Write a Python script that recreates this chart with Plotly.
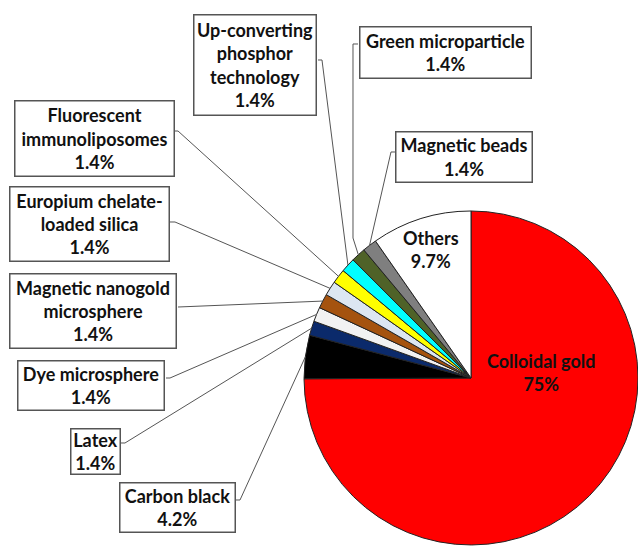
import math
import plotly.graph_objects as go

# ---- data ----
labels = ["Colloidal gold", "Carbon black", "Latex", "Dye microsphere",
          "Magnetic nanogold microsphere", "Europium chelate-loaded silica",
          "Fluorescent immunoliposomes", "Up-converting phosphor technology",
          "Green microparticle", "Magnetic beads", "Others"]
values = [75, 4.2, 1.4, 1.4, 1.4, 1.4, 1.4, 1.4, 1.4, 1.4, 9.7]
pct_text = ["75%", "4.2%", "1.4%", "1.4%", "1.4%", "1.4%", "1.4%", "1.4%", "1.4%", "1.4%", "9.7%"]
label_lines = ["Colloidal gold", "Carbon black", "Latex", "Dye microsphere",
               "Magnetic nanogold<br>microsphere", "Europium chelate-<br>loaded silica",
               "Fluorescent<br>immunoliposomes", "Up-converting<br>phosphor<br>technology",
               "Green microparticle", "Magnetic beads", "Others"]
colors = ["#ff0000", "#000000", "#0b2a6b", "#f2f2f2", "#a5530f", "#dce6f2",
          "#ffff00", "#00ffff", "#4f6228", "#7f7f7f", "#ffffff"]

# ---- layout params ----
W, H = 638, 551
dom_x = [0.4765, 1.0]
dom_y = [0.0109, 0.6171]
cx = (dom_x[0] + dom_x[1]) / 2 * W
cy = H - (dom_y[0] + dom_y[1]) / 2 * H
r = min((dom_x[1] - dom_x[0]) * W, (dom_y[1] - dom_y[0]) * H) / 2

# label box centre x, y, width, height (px)
box_pos = {
    "Carbon black": (177, 507, 112, 46),
    "Latex": (95, 451, 46, 42),
    "Dye microsphere": (91, 385, 143, 46),
    "Magnetic nanogold microsphere": (93, 311, 163, 71),
    "Europium chelate-loaded silica": (89, 224, 156, 71),
    "Fluorescent immunoliposomes": (94, 138, 156, 72),
    "Up-converting phosphor technology": (255, 65, 119, 97),
    "Green microparticle": (445, 53, 168, 48),
    "Magnetic beads": (464, 157, 133, 47),
}
# leader-line start points and elbows (px)
leaders = {
    "Carbon black": [(236, 500), (240, 500)],
    "Latex": [(121, 443), (125, 443)],
    "Dye microsphere": [(166, 378), (170, 378)],
    "Magnetic nanogold microsphere": [(178, 307)],
    "Europium chelate-loaded silica": [(170, 222), (175, 222)],
    "Fluorescent immunoliposomes": [(175, 131), (178, 131)],
    "Up-converting phosphor technology": [(318, 60), (322, 60)],
    "Green microparticle": [(358, 44), (353, 44), (353, 238)],
    "Magnetic beads": [(395, 152), (391, 152)],
}

FONT = "Lato"
FS = 18

fig = go.Figure()
fig.add_trace(go.Pie(
    labels=labels, values=values, sort=False, direction="clockwise", rotation=0,
    marker=dict(colors=colors, line=dict(color="#222222", width=1)),
    textinfo="none", hoverinfo="label+percent", showlegend=False,
    domain=dict(x=dom_x, y=dom_y),
))

annotations = []
shapes = []
total = sum(values)
cum = 0.0
for lab, val, pt, ll in zip(labels, values, pct_text, label_lines):
    mid = (cum + val / 2) / total * 2 * math.pi
    cum += val
    tx = cx + r * math.sin(mid)
    ty = cy - r * math.cos(mid)
    if lab in box_pos:
        bx, by, bw, bh = box_pos[lab]
        pts = leaders[lab] + [(tx, ty)]
        path = "M " + " L ".join(f"{px / W:.5f},{1 - py / H:.5f}" for px, py in pts)
        shapes.append(dict(type="path", xref="paper", yref="paper", path=path,
                           line=dict(color="#555555", width=1)))
        annotations.append(dict(
            x=bx / W, y=1 - by / H, xref="paper", yref="paper",
            xanchor="center", yanchor="middle",
            text="<b>" + ll + "<br>" + pt + "</b>", showarrow=False,
            font=dict(family=FONT, size=FS, color="#111111"),
            bordercolor="#555555", borderwidth=1.5, borderpad=1,
            bgcolor="#ffffff", width=bw, height=bh, align="center", valign="middle",
        ))

annotations.append(dict(x=541 / W, y=1 - 372 / H, xref="paper", yref="paper",
                        xanchor="center", yanchor="middle",
                        text="<b>" + label_lines[0] + "<br>" + pct_text[0] + "</b>",
                        showarrow=False, font=dict(family=FONT, size=FS, color="#111111")))
annotations.append(dict(x=431 / W, y=1 - 250 / H, xref="paper", yref="paper",
                        xanchor="center", yanchor="middle",
                        text="<b>" + label_lines[-1] + "<br>" + pct_text[-1] + "</b>",
                        showarrow=False, font=dict(family=FONT, size=FS, color="#111111")))

fig.update_layout(
    width=W, height=H, margin=dict(l=0, r=0, t=0, b=0),
    paper_bgcolor="#ffffff", plot_bgcolor="#ffffff",
    annotations=annotations, shapes=shapes,
)
fig.write_html("out.html")
